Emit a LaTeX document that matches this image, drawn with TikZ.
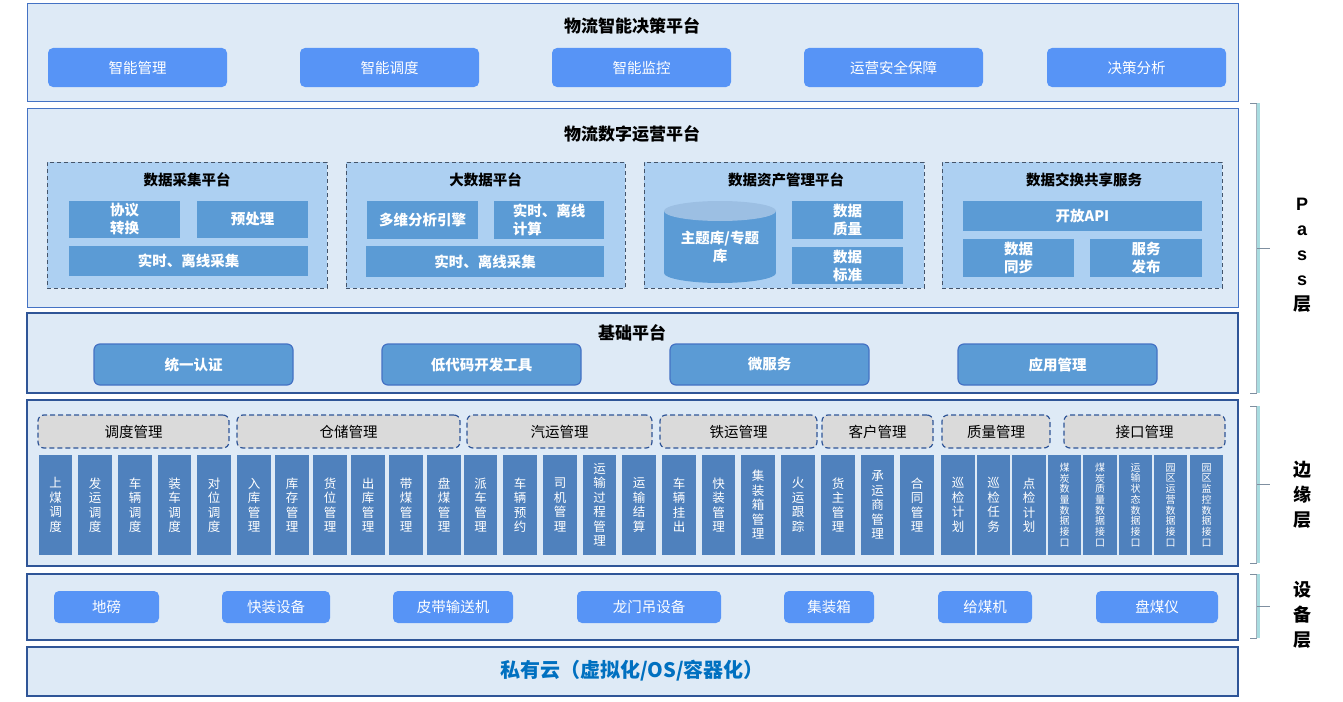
\documentclass[tikz,border=0pt]{standalone}
\usepackage{fontspec}
\setmainfont{Noto Sans CJK SC}
\newfontfamily\lat{Liberation Sans}
\definecolor{layerfill}{HTML}{DEEAF6}
\definecolor{layerA}{HTML}{4472C4}
\definecolor{layerB}{HTML}{2F5597}
\definecolor{btnA}{HTML}{5794F6}
\definecolor{btnB}{HTML}{5B9BD5}
\definecolor{panelfill}{HTML}{ADD0F2}
\definecolor{panelline}{HTML}{44546A}
\definecolor{hdrfill}{HTML}{DADADA}
\definecolor{colfill}{HTML}{4F81BD}
\definecolor{cloudtxt}{HTML}{0070C0}
\definecolor{cyltop}{HTML}{9CBFE3}
\definecolor{brk}{HTML}{A9DCE0}
\definecolor{brkgray}{HTML}{7F8FA0}
\newcommand\bx[7]{\node[#1,anchor=north west,minimum width={#5-#3},minimum height={#6-#4},inner sep=0pt,outer sep=0pt] (#2) at (#3,#4) {#7};}
\tikzset{
  layerA/.style={draw=layerA, fill=layerfill, line width=1pt},
  layerB/.style={draw=layerB, fill=layerfill, line width=1.3pt},
  ltitle/.style={font=\fontsize{17}{20}\selectfont\bfseries, text=black},
  topbtn/.style={fill=btnA, rounded corners=5pt, text=white, font=\fontsize{14.5}{17}\selectfont},
  panelbox/.style={fill=panelfill, draw=panelline, dash pattern=on 4pt off 3pt, line width=1pt},
  ptitle/.style={font=\fontsize{14.5}{17}\selectfont\bfseries},
  inbox/.style={fill=btnB, text=white, font=\fontsize{14.5}{18}\selectfont\bfseries, align=center},
  basebtn/.style={fill=btnB, draw=layerA, line width=1.2pt, rounded corners=6pt, text=white, font=\fontsize{14.5}{17}\selectfont\bfseries},
  grp/.style={fill=hdrfill, draw=layerB, dash pattern=on 5pt off 3pt, line width=1.2pt, rounded corners=6pt, font=\fontsize{14.5}{17}\selectfont},
  col/.style={fill=colfill, text=white, align=center, font=\fontsize{12.5}{14.5}\selectfont},
  colsm/.style={fill=colfill, text=white, align=center, font=\fontsize{10}{10.7}\selectfont},
  devbtn/.style={fill=btnA, rounded corners=5pt, text=white, font=\fontsize{14.5}{17}\selectfont},
  brkline/.style={draw=brk, line width=3pt},
  brkedge/.style={draw=brkgray!70, line width=0.6pt},
  brktick/.style={draw=brkgray, line width=1pt},
  sidelbl/.style={align=center, font=\fontsize{18}{25}\selectfont\bfseries},
}
\begin{document}
\begin{tikzpicture}[x=1pt,y=-1pt]
\useasboundingbox[fill=white] (0,0) rectangle (1343,701);
% ---------- layer 1
\bx{layerA}{L1}{27}{4}{1238}{101}{}
\node[ltitle] (t1) at (632,26) {物流智能决策平台};
\bx{topbtn}{a1}{48}{48}{227}{87}{智能管理}
\bx{topbtn}{a2}{300}{48}{479}{87}{智能调度}
\bx{topbtn}{a3}{552}{48}{731}{87}{智能监控}
\bx{topbtn}{a4}{804}{48}{983}{87}{运营安全保障}
\bx{topbtn}{a5}{1047}{48}{1226}{87}{决策分析}
% ---------- layer 2
\bx{layerA}{L2}{27}{108}{1238}{307}{}
\node[ltitle] (t2) at (632,134) {物流数字运营平台};
\bx{panelbox}{p1}{47}{162}{327}{288}{}
\bx{panelbox}{p2}{346}{162}{625}{288}{}
\bx{panelbox}{p3}{644}{162}{924}{288}{}
\bx{panelbox}{p4}{942}{162}{1222}{288}{}
\node[ptitle] (pt1) at (187,180) {数据采集平台};
\node[ptitle] (pt2) at (485.5,180) {大数据平台};
\node[ptitle] (pt3) at (786,180) {数据资产管理平台};
\node[ptitle] (pt4) at (1084,180) {数据交换共享服务};
\bx{inbox}{b11}{69}{201}{180}{238}{协议\\转换}
\bx{inbox}{b12}{197}{201}{308}{238}{预处理}
\bx{inbox}{b13}{69}{246}{308}{276}{实时、离线采集}
\bx{inbox}{b21}{367}{201}{478}{239}{多维分析引擎}
\bx{inbox,align=left}{b22}{494}{201}{604}{239}{实时、离线\\计算}
\bx{inbox}{b23}{366}{246}{604}{277}{实时、离线采集}
% cylinder
\fill[btnB] (664,211) rectangle (776,273);
\fill[btnB] (720,273) ellipse [x radius=56, y radius=10];
\fill[cyltop] (720,211) ellipse [x radius=56, y radius=10];
\node[inbox,fill=none] (cyl) at (720,247) {主题库/专题\\库};
\bx{inbox}{b32}{792}{201}{903}{239}{数据\\质量}
\bx{inbox}{b33}{792}{247}{903}{284}{数据\\标准}
\bx{inbox}{b41}{963}{201}{1202}{231}{开放API}
\bx{inbox}{b42}{963}{239}{1074}{277}{数据\\同步}
\bx{inbox}{b43}{1090}{239}{1202}{277}{服务\\发布}
% ---------- layer 3
\bx{layerB}{L3}{27}{313}{1238}{393}{}
\node[ltitle] (t3) at (632,333) {基础平台};
\bx{basebtn}{c1}{94}{344}{293}{385}{统一认证}
\bx{basebtn}{c2}{382}{344}{581}{385}{低代码开发工具}
\bx{basebtn}{c3}{670}{344}{869}{385}{微服务}
\bx{basebtn}{c4}{958}{344}{1157}{385}{应用管理}
% ---------- layer 4
\bx{layerB}{L4}{27}{400}{1238}{566}{}
\bx{grp}{g1}{38}{415}{229}{448}{调度管理}
\bx{grp}{g2}{237}{415}{460}{448}{仓储管理}
\bx{grp}{g3}{467}{415}{652}{448}{汽运管理}
\bx{grp}{g4}{660}{415}{817}{448}{铁运管理}
\bx{grp}{g5}{822}{415}{933}{448}{客户管理}
\bx{grp}{g6}{942}{415}{1050}{448}{质量管理}
\bx{grp}{g7}{1064}{415}{1225}{448}{接口管理}
\foreach \a/\b/\t [count=\i] in {
  39/72/上\\煤\\调\\度, 78/112/发\\运\\调\\度, 118/152/车\\辆\\调\\度, 158/191/装\\车\\调\\度, 197/231/对\\位\\调\\度,
  237/271/入\\库\\管\\理, 275/309/库\\存\\管\\理, 313/347/货\\位\\管\\理, 351/385/出\\库\\管\\理, 389/423/带\\煤\\管\\理, 427/461/盘\\煤\\管\\理,
  464/497/派\\车\\管\\理, 503/537/车\\辆\\预\\约, 543/577/司\\机\\管\\理, 583/616/运\\输\\过\\程\\管\\理, 622/656/运\\输\\结\\算,
  662/696/车\\辆\\挂\\出, 702/735/快\\装\\管\\理, 741/775/集\\装\\箱\\管\\理, 781/815/火\\运\\跟\\踪,
  821/855/货\\主\\管\\理, 861/894/承\\运\\商\\管\\理, 900/934/合\\同\\管\\理,
  941/975/巡\\检\\计\\划, 977/1010/巡\\检\\任\\务, 1012/1046/点\\检\\计\\划}
  {\bx{col}{e\i}{\a}{455}{\b}{555}{\t}}
\foreach \a/\b/\t [count=\i] in {
  1048/1081/煤\\炭\\数\\量\\数\\据\\接\\口, 1083/1117/煤\\炭\\质\\量\\数\\据\\接\\口,
  1119/1152/运\\输\\状\\态\\数\\据\\接\\口, 1154/1187/园\\区\\运\\营\\数\\据\\接\\口,
  1190/1223/园\\区\\监\\控\\数\\据\\接\\口}
  {\bx{colsm}{f\i}{\a}{455}{\b}{555}{\t}}
% ---------- layer 5
\bx{layerB}{L5}{27}{574}{1238}{640}{}
\bx{devbtn}{d1}{54}{591}{159}{623}{地磅}
\bx{devbtn}{d2}{222}{591}{330}{623}{快装设备}
\bx{devbtn}{d3}{393}{591}{513}{623}{皮带输送机}
\bx{devbtn}{d4}{577}{591}{721}{623}{龙门吊设备}
\bx{devbtn}{d5}{784}{591}{874}{623}{集装箱}
\bx{devbtn}{d6}{938}{591}{1032}{623}{给煤机}
\bx{devbtn}{d7}{1096}{591}{1218}{623}{盘煤仪}
% ---------- layer 6
\bx{layerB}{L6}{27}{647}{1238}{696}{}
\node[font=\fontsize{20}{24}\selectfont\bfseries, text=cloudtxt] (t6) at (632,671) {私有云（虚拟化/OS/容器化）};
% ---------- side brackets
\draw[brkline] (1258,103) -- (1258,393);
\draw[brkedge] (1256.5,103) -- (1256.5,393);
\draw[brktick] (1250,103) -- (1257,103) (1250,393) -- (1257,393) (1257,248) -- (1270,248);
\draw[brkline] (1258,406) -- (1258,563);
\draw[brkedge] (1256.5,406) -- (1256.5,563);
\draw[brktick] (1250,406) -- (1257,406) (1250,563) -- (1257,563) (1257,484) -- (1270,484);
\draw[brkline] (1258,574) -- (1258,638);
\draw[brkedge] (1256.5,574) -- (1256.5,638);
\draw[brktick] (1250,574) -- (1257,574) (1250,638) -- (1257,638) (1257,606) -- (1270,606);
\node[sidelbl] (s1) at (1302,255) {{\lat P}\\{\lat a}\\{\lat s}\\{\lat s}\\层};
\node[sidelbl] (s2) at (1302,495) {边\\缘\\层};
\node[sidelbl] (s3) at (1302,615) {设\\备\\层};
\end{tikzpicture}
\end{document}
